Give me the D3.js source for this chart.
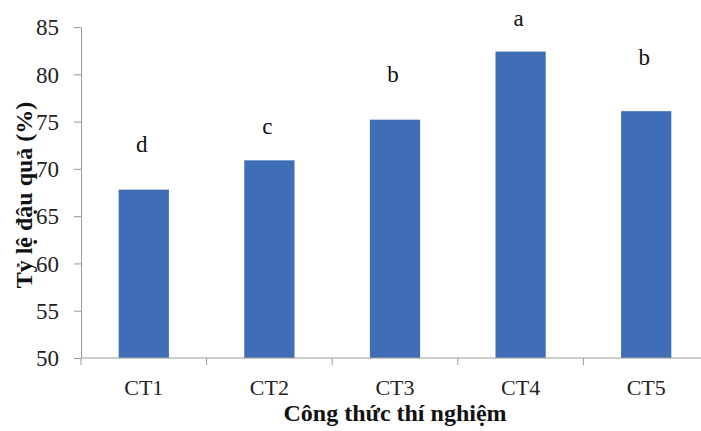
<!DOCTYPE html>
<html>
<head>
<meta charset="utf-8">
<script src="https://cdn.jsdelivr.net/npm/d3@7"></script>
<style>
  body { margin: 0; background: #fff; }
  text { font-family: "Liberation Serif", "Times New Roman", serif; }
</style>
</head>
<body>
<div id="chart"></div>
<script>
// Data
const categories = ["CT1", "CT2", "CT3", "CT4", "CT5"];
const values = [67.8, 70.9, 75.2, 82.4, 76.1];
const letters = ["d", "c", "b", "a", "b"];
// height (in %) where each significance letter sits
const letterAt = [71.8, 73.7, 79.2, 85.1, 81.0];
const yTicks = [50, 55, 60, 65, 70, 75, 80, 85];

const width = 701, height = 431;
const margin = { top: 27, right: -8, bottom: 73, left: 81 };
const serif = "Liberation Serif";

const svg = d3.select("#chart")
    .append("svg")
    .attr("width", width)
    .attr("height", height);

const x = d3.scaleBand()
    .domain(categories)
    .range([margin.left, width - margin.right])
    .paddingInner(0.6)
    .paddingOuter(0.3);

const y = d3.scaleLinear()
    .domain([50, 85])
    .range([height - margin.bottom, margin.top]);

// Bars
svg.selectAll(".bar")
    .data(categories)
    .enter()
    .append("rect")
    .attr("class", "bar")
    .attr("x", d => x(d))
    .attr("y", (d, i) => y(values[i]))
    .attr("width", x.bandwidth())
    .attr("height", (d, i) => y(50) - y(values[i]))
    .attr("fill", "#3F6DB6");

// Significance letters
svg.selectAll(".letter")
    .data(letters)
    .enter()
    .append("text")
    .attr("class", "letter")
    .attr("x", (d, i) => x(categories[i]) + x.bandwidth() / 2 - 2)
    .attr("y", (d, i) => y(letterAt[i]))
    .attr("text-anchor", "middle")
    .attr("font-family", serif)
    .attr("font-size", 23)
    .attr("fill", "#111")
    .text(d => d);

// Y axis
const yAxis = svg.append("g")
    .attr("transform", `translate(${margin.left},0)`)
    .attr("font-family", serif)
    .call(d3.axisLeft(y).tickValues(yTicks).tickSize(7).tickPadding(15).tickSizeOuter(0));
yAxis.attr("font-family", serif);
yAxis.selectAll("text")
    .attr("font-size", 23)
    .attr("font-family", serif)
    .attr("fill", "#222")
    .attr("dy", "0.34em");
yAxis.select(".domain").attr("stroke", "#9a9a9a");
yAxis.selectAll(".tick line").attr("stroke", "#9a9a9a");

// X axis: ticks sit between categories
const step = x.step();
const xBoundaries = d3.range(categories.length + 1).map(i => margin.left + i * step);
const xAxis = svg.append("g")
    .attr("transform", `translate(0,${y(50)})`);
xAxis.append("line")
    .attr("x1", margin.left).attr("x2", width)
    .attr("stroke", "#9a9a9a");
xAxis.selectAll(".tk")
    .data(xBoundaries)
    .enter()
    .append("line")
    .attr("x1", d => d).attr("x2", d => d)
    .attr("y1", 0).attr("y2", 7)
    .attr("stroke", "#9a9a9a");
xAxis.selectAll(".lbl")
    .data(categories)
    .enter()
    .append("text")
    .attr("x", d => x(d) + x.bandwidth() / 2)
    .attr("y", 37)
    .attr("text-anchor", "middle")
    .attr("font-family", serif)
    .attr("font-size", 22)
    .attr("fill", "#222")
    .text(d => d);

// Axis titles
svg.append("text")
    .attr("x", (margin.left + 709) / 2)
    .attr("y", 421)
    .attr("text-anchor", "middle")
    .attr("font-family", serif)
    .attr("font-size", 24)
    .attr("font-weight", "bold")
    .attr("fill", "#111")
    .text("Công thức thí nghiệm");

svg.append("text")
    .attr("transform", `translate(32,195) rotate(-90)`)
    .attr("text-anchor", "middle")
    .attr("font-family", serif)
    .attr("font-size", 24)
    .attr("font-weight", "bold")
    .attr("fill", "#111")
    .text("Tỷ lệ đậu quả (%)");
</script>
</body>
</html>
